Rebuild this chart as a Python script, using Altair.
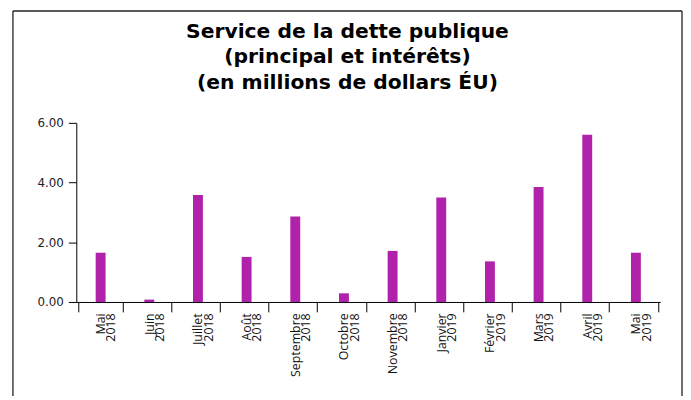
import altair as alt
import pandas as pd

months = ["Mai 2018", "Juin 2018", "Juillet 2018", "Août 2018", "Septembre 2018",
          "Octobre 2018", "Novembre 2018", "Janvier 2019", "Février 2019",
          "Mars 2019", "Avril 2019", "Mai 2019"]
values = [1.65, 0.08, 3.58, 1.51, 2.86, 0.29, 1.71, 3.50, 1.36, 3.85, 5.60, 1.65]
y_ticks = [0, 2, 4, 6]
title_lines = ["Service de la dette publique", "(principal et intérêts)",
               "(en millions de dollars ÉU)"]

df = pd.DataFrame({"mois": months, "valeur": values})

W, H = 590, 181

bars = alt.Chart(df).mark_bar(color="#B022AA", size=10).encode(
    x=alt.X("mois:N", sort=None, title=None,
            axis=alt.Axis(labelAngle=270, tickBand="extent", tickSize=10,
                          domainColor="black", tickColor="black",
                          labelFont="Open Sans", labelFontSize=12.5,
                          labelColor="#111111", labelLineHeight=10.5,
                          labelPadding=1,
                          labelExpr="split(datum.label, ' ')")),
    y=alt.Y("valeur:Q", title=None,
            scale=alt.Scale(domain=[0, 6], nice=False),
            axis=alt.Axis(values=y_ticks, format=".2f", grid=False,
                          domainColor="black", tickColor="black", tickSize=8,
                          labelFont="DejaVu Sans", labelFontSize=12,
                          labelColor="#222222", labelPadding=5)),
)

frame_df = pd.DataFrame({"k": [0]})
left = alt.Chart(frame_df).mark_rule(color="#222222", strokeWidth=1.3).encode(
    x=alt.value(-64), y=alt.value(-113), y2=alt.value(276))
right = alt.Chart(frame_df).mark_rule(color="#222222", strokeWidth=1.3).encode(
    x=alt.value(612), y=alt.value(-113), y2=alt.value(276))
top = alt.Chart(frame_df).mark_rule(color="#222222", strokeWidth=1.3).encode(
    x=alt.value(-64), x2=alt.value(612), y=alt.value(-113))

chart = alt.layer(bars, left, right, top).properties(
    width=W, height=H,
    padding={"left": 4, "top": 0, "right": 0, "bottom": 0},
    title=alt.TitleParams(text=title_lines, font="DejaVu Sans",
                          fontSize=20.5, fontWeight="bold", color="black",
                          anchor="middle", dx=-21, offset=-84, lineHeight=26),
).configure_view(stroke=None)

chart.save("out.html", embed_options={"renderer": "svg", "actions": False})
